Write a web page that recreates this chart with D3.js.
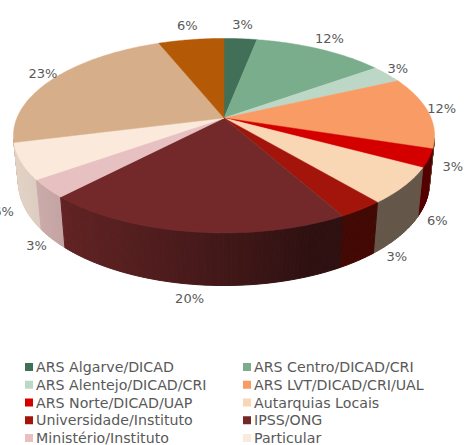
<!DOCTYPE html>
<html>
<head>
<meta charset="utf-8">
<script src="https://cdn.jsdelivr.net/npm/d3@7"></script>
<style>
  body { margin: 0; background: #fff; }
  svg { display: block; }
</style>
</head>
<body>
<div id="chart"></div>
<script>
// Categories in drawing order (clockwise from 12 o'clock)
const categories = [
  "ARS Algarve/DICAD",
  "ARS Centro/DICAD/CRI",
  "ARS Alentejo/DICAD/CRI",
  "ARS LVT/DICAD/CRI/UAL",
  "ARS Norte/DICAD/UAP",
  "Autarquias Locais",
  "Universidade/Instituto",
  "IPSS/ONG",
  "Ministério/Instituto",
  "Particular",
  "Outras entidades",
  "Outro"
];

// Share of each category (%)
const values = [3, 12, 3, 12, 3, 6, 3, 20, 3, 6, 23, 6];

const palette = [
  "#426f58", "#79ad8b", "#bdd7c6", "#f89b64", "#d40000", "#f9d6b4",
  "#a3150b", "#73292a", "#e7c1c1", "#fbe9db", "#d6af8a", "#b45a06"
];

const width = 465;
const height = 445;

// 3D pie geometry (simple perspective camera)
const cx = 224, cy = 118;
const focal = 1015, dist = 1, radius = 0.204, depthH = 0.052;
const tilt = 27 * Math.PI / 180;

function project(theta, r, z) {
  const x = r * Math.sin(theta);
  const y = r * Math.cos(theta);
  const d = y * Math.cos(tilt) - z * Math.sin(tilt) + dist;
  return [cx + focal * x / d, cy - focal * (y * Math.sin(tilt) + z * Math.cos(tilt)) / d];
}

const color = d3.scaleOrdinal().domain(categories).range(palette);

const pie = d3.pie().sort(null).value((d, i) => values[i]);
const arcs = pie(categories);

const svg = d3.select("#chart")
  .append("svg")
  .attr("width", width)
  .attr("height", height)
  .attr("viewBox", [0, 0, width, height]);

// Side wall: split in small strips, shaded by the direction it faces
const lightAngle = 250 * Math.PI / 180;
const visibleLimit = -radius / (dist * Math.cos(tilt));
const step = Math.PI / 180;
const strips = [];
arcs.forEach(a => {
  const n = Math.max(1, Math.ceil((a.endAngle - a.startAngle) / step));
  for (let i = 0; i < n; i++) {
    const t0 = a.startAngle + (a.endAngle - a.startAngle) * i / n;
    const t1 = a.startAngle + (a.endAngle - a.startAngle) * (i + 1) / n;
    const tm = (t0 + t1) / 2;
    if (Math.cos(tm) > visibleLimit + 0.02) continue;
    const k = 0.4 + 0.5 * Math.max(0, Math.cos(tm - lightAngle));
    const c = d3.rgb(color(a.data));
    strips.push({
      t0, t1, tm,
      fill: d3.rgb(c.r * k, c.g * k, c.b * k).formatHex()
    });
  }
});
strips.sort((a, b) => Math.cos(b.tm) - Math.cos(a.tm));

svg.append("g")
  .selectAll("path")
  .data(strips)
  .join("path")
  .attr("d", s => {
    const p = [project(s.t0, radius, 0), project(s.t1, radius, 0),
               project(s.t1, radius, -depthH), project(s.t0, radius, -depthH)];
    return "M" + p.map(q => q.join(",")).join("L") + "Z";
  })
  .attr("fill", s => s.fill)
  .attr("stroke", s => s.fill)
  .attr("stroke-width", 1);

// Top face slices
svg.append("g")
  .selectAll("path")
  .data(arcs)
  .join("path")
  .attr("d", a => {
    const pts = [[cx, cy]];
    const n = Math.max(2, Math.ceil((a.endAngle - a.startAngle) / step));
    for (let i = 0; i <= n; i++) {
      pts.push(project(a.startAngle + (a.endAngle - a.startAngle) * i / n, radius, 0));
    }
    return "M" + pts.map(q => q.join(",")).join("L") + "Z";
  })
  .attr("fill", a => color(a.data))
  .attr("stroke", a => color(a.data))
  .attr("stroke-width", 0.5);

// Bounding box of the drawn pie, used to lay the labels on an outer ellipse
const outline = d3.range(0, 360, 2).flatMap(deg => {
  const t = deg * Math.PI / 180;
  return [project(t, radius, 0), project(t, radius, Math.cos(t) < visibleLimit ? -depthH : 0)];
});
const [x0, x1] = d3.extent(outline, p => p[0]);
const [y0, y1] = d3.extent(outline, p => p[1]);
const bx = (x0 + x1) / 2, by = (y0 + y1) / 2;
const hx = (x1 - x0) / 2, hy = (y1 - y0) / 2;
const labelRing = 1.12;

svg.append("g")
  .selectAll("text")
  .data(arcs)
  .join("text")
  .attr("font-family", "DejaVu Sans, sans-serif")
  .attr("font-size", 13)
  .attr("fill", "#595959")
  .attr("text-anchor", "middle")
  .attr("dominant-baseline", "central")
  .text(a => d3.format(".0%")(values[a.index] / 100))
  .each(function (a) {
    const tm = (a.startAngle + a.endAngle) / 2;
    const left = Math.sin(tm) < 0;
    const w = left
      ? Math.max(0, Math.min(1, (-Math.cos(tm) - 0.15) / 0.3))
      : 0.5 * Math.max(0, Math.min(1, (-Math.cos(tm) - 0.3) / 0.3));
    const p = project(tm, radius, -depthH * w);
    let u = (p[0] - bx) / hx, v = (p[1] - by) / hy;
    const len = Math.hypot(u, v);
    u /= len; v /= len;
    const tw = this.getComputedTextLength();
    const x = Math.max(-1, Math.min(bx + labelRing * hx * u, width - 2 - tw / 2));
    d3.select(this)
      .attr("x", x)
      .attr("y", by + labelRing * hy * v);
  });

// Legend, two columns
const legend = svg.append("g")
  .attr("font-family", "DejaVu Sans, sans-serif")
  .attr("font-size", 14.2)
  .attr("fill", "#595959");

const item = legend.selectAll("g")
  .data(categories)
  .join("g")
  .attr("transform", (d, i) => `translate(${i % 2 === 0 ? 25 : 243},${367 + Math.floor(i / 2) * 17.75})`);

item.append("rect")
  .attr("x", 0)
  .attr("y", -4)
  .attr("width", 8)
  .attr("height", 8)
  .attr("fill", d => color(d));

item.append("text")
  .attr("x", 11)
  .attr("dominant-baseline", "central")
  .text(d => d);
</script>
</body>
</html>
